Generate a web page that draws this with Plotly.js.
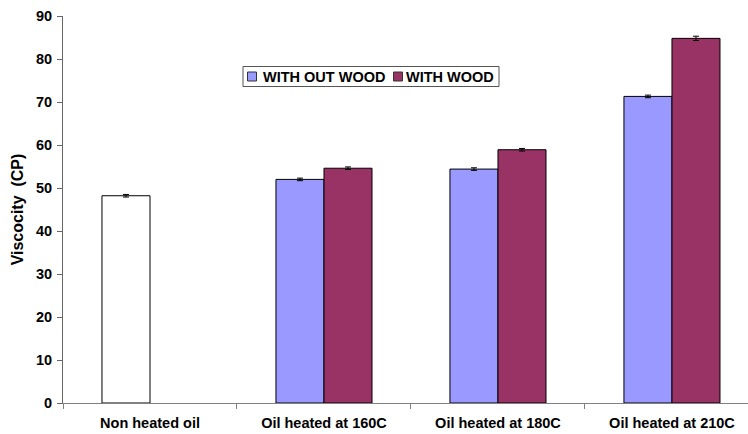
<!DOCTYPE html>
<html>
<head>
<meta charset="utf-8">
<script src="https://cdn.plot.ly/plotly-3.0.1.min.js"></script>
<style>html,body{margin:0;padding:0;background:#fff;} #chart{width:748px;height:434px;}</style>
</head>
<body>
<div id="chart"></div>
<script>
var categories = ["Non heated oil", "Oil heated at 160C", "Oil heated at 180C", "Oil heated at 210C"];
var nonHeated = [48.2];
var nonHeatedErr = [0.3];
var withoutWood = [52.0, 54.4, 71.3];
var withoutWoodErr = [0.3, 0.3, 0.3];
var withWood = [54.6, 58.9, 84.8];
var withWoodErr = [0.3, 0.3, 0.5];
var seriesNames = ["WITH OUT WOOD", "WITH WOOD"];
var heatedCats = categories.slice(1);

var FONT = "Liberation Sans, Arial, sans-serif";
var BLUE = '#9999ff', WINE = '#993366';
var barW = 0.276;
var errStyle = {type: 'data', visible: true, thickness: 1, width: 3, color: '#000'};

var traces = [
  {type: 'bar', name: 'Non heated', x: [categories[0]], y: nonHeated, width: barW, offset: -barW,
   marker: {color: '#ffffff', line: {color: '#000', width: 1}},
   error_y: Object.assign({array: nonHeatedErr}, errStyle)},
  {type: 'bar', name: seriesNames[0], x: heatedCats, y: withoutWood, width: barW, offset: -barW,
   marker: {color: BLUE, line: {color: '#000', width: 1}},
   error_y: Object.assign({array: withoutWoodErr}, errStyle)},
  {type: 'bar', name: seriesNames[1], x: heatedCats, y: withWood, width: barW, offset: 0,
   marker: {color: WINE, line: {color: '#000', width: 1}},
   error_y: Object.assign({array: withWoodErr}, errStyle)}
];

// legend box (drawn as a framed key in paper coordinates)
var plotL = 63, plotW = 685, plotT = 16, plotH = 387;
function px(x) { return (x - plotL) / plotW; }
function py(y) { return (plotT + plotH - y) / plotH; }
var lf = {family: FONT, size: 14.5, color: '#000', weight: 'bold'};
var shapes = [
  {type: 'rect', xref: 'paper', yref: 'paper', x0: px(243), x1: px(499), y0: py(86.5), y1: py(66.5),
   line: {color: '#555', width: 1}, fillcolor: '#fff', layer: 'above'},
  {type: 'rect', xref: 'paper', yref: 'paper', x0: px(247.5), x1: px(256.5), y0: py(81), y1: py(72),
   line: {color: '#333', width: 1}, fillcolor: BLUE, layer: 'above'},
  {type: 'rect', xref: 'paper', yref: 'paper', x0: px(393.5), x1: px(402.5), y0: py(81), y1: py(72),
   line: {color: '#333', width: 1}, fillcolor: WINE, layer: 'above'}
];
var annotations = [
  {xref: 'paper', yref: 'paper', x: px(261), y: py(77), xanchor: 'left', yanchor: 'middle',
   text: seriesNames[0], showarrow: false, font: lf},
  {xref: 'paper', yref: 'paper', x: px(404), y: py(77), xanchor: 'left', yanchor: 'middle',
   text: seriesNames[1], showarrow: false, font: lf}
];

var layout = {
  width: 748, height: 434,
  margin: {l: 63, r: 0, t: 16, b: 31},
  paper_bgcolor: '#fff', plot_bgcolor: '#fff',
  barmode: 'overlay',
  showlegend: false,
  font: {family: FONT, size: 14.5, color: '#000', weight: 'bold'},
  xaxis: {
    type: 'category', categoryorder: 'array', categoryarray: categories,
    range: [-0.5, 3.437], showgrid: false, zeroline: false,
    showline: true, linecolor: '#808080', linewidth: 1,
    ticks: 'outside', tickson: 'boundaries', ticklen: 5, tickcolor: '#808080',
    ticklabelstandoff: 7,
    tickfont: {family: FONT, size: 14.5, color: '#000', weight: 'bold'}
  },
  yaxis: {
    range: [0, 90], dtick: 10, showgrid: false, zeroline: false,
    showline: true, linecolor: '#666', linewidth: 1,
    ticks: 'outside', ticklen: 5, tickcolor: '#666',
    ticklabelstandoff: 2,
    tickfont: {family: FONT, size: 14.5, color: '#000', weight: 'bold'},
    title: {text: 'Viscocity  (CP)', font: {family: FONT, size: 16, color: '#000', weight: 'bold'}, standoff: 8}
  },
  shapes: shapes,
  annotations: annotations
};

Plotly.newPlot('chart', traces, layout, {displayModeBar: false, staticPlot: true});
</script>
</body>
</html>
